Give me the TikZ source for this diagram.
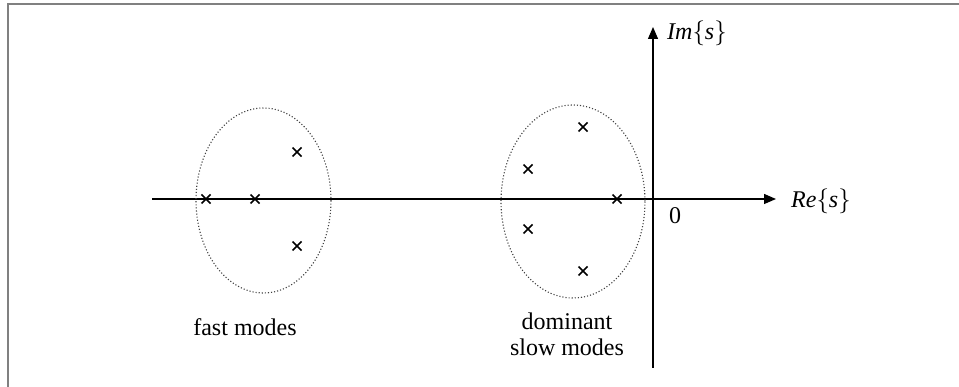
\documentclass[tikz,border=0pt]{standalone}
\usepackage{fontspec}
\setmainfont{Liberation Serif}
\usetikzlibrary{arrows.meta}
\begin{document}
\begin{tikzpicture}[x=1pt,y=-1pt,
  axis/.style={line width=1.3pt,-{Triangle[length=12pt,width=10pt]}},
  pole/.style={inner sep=0pt,minimum size=0pt},
  modes/.style={draw=black!75,line width=1.1pt,dotted},
  lbl/.style={font=\fontsize{24}{26}\selectfont,inner sep=0pt,align=center},
  frameline/.style={draw=black!50,line width=2pt}]
\useasboundingbox (0,0) rectangle (959,387);
% frame
\coordinate (ftr) at (959,4.5);
\coordinate (ftl) at (7.5,4.5);
\coordinate (fbl) at (7.5,387);
\draw[frameline] (ftr) -- (ftl) -- (fbl);
% axes
\coordinate (rel) at (152,199);
\coordinate (rer) at (776,199);
\coordinate (imb) at (653,368);
\coordinate (imt) at (653,27);
\draw[axis] (rel) -- (rer);
\draw[axis] (imb) -- (imt);
\node[lbl,anchor=west] (re) at (791,201) {\textit{Re}$\{\textit{s}\}$};
\node[lbl,anchor=west] (im) at (667,33) {\textit{Im}$\{\textit{s}\}$};
\node[lbl] (zero) at (675,216) {0};
% ellipses
\draw[modes] (263.5,200.5) ellipse [x radius=67.5, y radius=92.5];
\draw[modes] (573,201.5) ellipse [x radius=72, y radius=96.5];
% poles
\foreach \n/\px/\py in {a/206/199, b/255/199, c/297/152, d/297/246,
  e/583/127, f/528/169, g/617/199, h/528/229, i/583/271}{
  \node[pole] (p\n) at (\px,\py) {};
  \draw[line width=1.5pt] ([shift={(-4.5,-4.5)}]p\n.center) -- ([shift={(4.5,4.5)}]p\n.center)
    ([shift={(-4.5,4.5)}]p\n.center) -- ([shift={(4.5,-4.5)}]p\n.center);
}
% labels
\node[lbl] (fast) at (245,327) {fast modes};
\node[lbl] (slow) at (567,334) {dominant\\slow modes};
\end{tikzpicture}
\end{document}
